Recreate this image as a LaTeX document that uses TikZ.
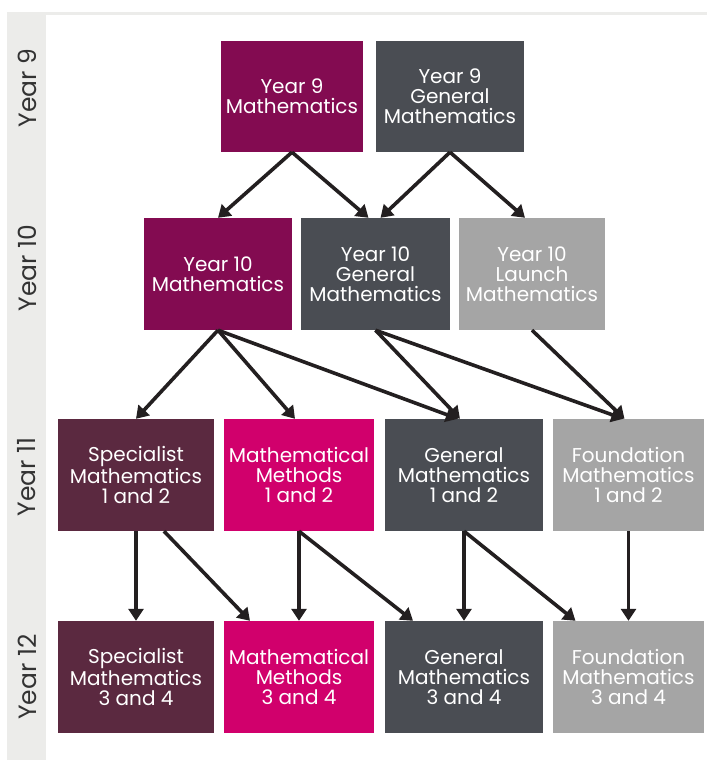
\documentclass[tikz,border=0pt]{standalone}
\usepackage{fontspec}
\setmainfont{Poppins}
\usetikzlibrary{arrows.meta}
\definecolor{cpurple}{HTML}{830B51}
\definecolor{cdark}{HTML}{4A4D53}
\definecolor{clight}{HTML}{A5A5A5}
\definecolor{cmaroon}{HTML}{5B2940}
\definecolor{cmagenta}{HTML}{D1006C}
\definecolor{cstrip}{HTML}{ECECEA}
\definecolor{carrow}{HTML}{231F20}
\tikzset{
  box/.style={draw=none, text=white, align=center, inner sep=0pt,
    font=\fontsize{20}{20}\selectfont, minimum height=112pt},
  yearlbl/.style={rotate=90, text=black!80, font=\fontsize{25}{26}\selectfont, inner sep=0pt},
  conn/.style={draw=carrow, line width=3.6pt, -{Triangle[width=15pt,length=12pt]}}
}
\begin{document}
\begin{tikzpicture}[x=1pt,y=-1pt]
\useasboundingbox (0,0) rectangle (707,760);
\fill[white] (0,0) rectangle (707,760);
% strip and top line
\fill[cstrip] (7,12) rectangle (707,15);
\fill[cstrip] (7,12) rectangle (46,760);
\node[yearlbl] (l9) at (27,88) {Year 9};
\node[yearlbl] (l10) at (27,268) {Year 10};
\node[yearlbl] (l11) at (27,477) {Year 11};
\node[yearlbl] (l12) at (27,677) {Year 12};
% Year 9
\node[box, fill=cpurple, minimum width=142pt, minimum height=111pt] (y9m) at (292,96.5) {Year 9\\Mathematics};
\node[box, fill=cdark, minimum width=148pt, minimum height=111pt] (y9g) at (450,96.5) {Year 9\\General\\Mathematics};
% Year 10
\node[box, fill=cpurple, minimum width=148pt] (y10m) at (218,274) {Year 10\\Mathematics};
\node[box, fill=cdark, minimum width=149pt] (y10g) at (375.5,274) {Year 10\\General\\Mathematics};
\node[box, fill=clight, minimum width=146pt] (y10l) at (532,274) {Year 10\\Launch\\Mathematics};
% Year 11
\node[box, fill=cmaroon, minimum width=156pt] (s11) at (136,475) {Specialist\\Mathematics\\1 and 2};
\node[box, fill=cmagenta, minimum width=150pt] (m11) at (299,475) {Mathematical\\Methods\\1 and 2};
\node[box, fill=cdark, minimum width=158pt] (g11) at (464,475) {General\\Mathematics\\1 and 2};
\node[box, fill=clight, minimum width=151pt] (f11) at (628.5,475) {Foundation\\Mathematics\\1 and 2};
% Year 12
\node[box, fill=cmaroon, minimum width=156pt] (s12) at (136,677) {Specialist\\Mathematics\\3 and 4};
\node[box, fill=cmagenta, minimum width=150pt] (m12) at (299,677) {Mathematical\\Methods\\3 and 4};
\node[box, fill=cdark, minimum width=158pt] (g12) at (464,677) {General\\Mathematics\\3 and 4};
\node[box, fill=clight, minimum width=151pt] (f12) at (628.5,677) {Foundation\\Mathematics\\3 and 4};
% connectors Year 9 -> 10
\draw[conn] (y9m.south) -- (y10m.north);
\draw[conn] (y9m.south) -- ([xshift=-7pt]y10g.north);
\draw[conn] (y9g.south) -- ([xshift=5pt]y10g.north);
\draw[conn] (y9g.south) -- ([xshift=-7pt]y10l.north);
% Year 10 -> 11
\draw[conn] (y10m.south) -- (s11.north);
\draw[conn] (y10m.south) -- ([xshift=-4pt]m11.north);
\draw[conn] (y10m.south) -- ([xshift=-6pt]g11.north);
\draw[conn] (y10g.south) -- ([xshift=-4pt]g11.north);
\draw[conn] (y10g.south) -- ([xshift=-5pt]f11.north);
\draw[conn] (y10l.south) -- ([xshift=-4pt]f11.north);
% Year 11 -> 12
\draw[conn] (s11.south) -- (s12.north);
\draw[conn] ([xshift=28pt]s11.south) -- ([xshift=-49pt]m12.north);
\draw[conn] (m11.south) -- (m12.north);
\draw[conn] (m11.south) -- ([xshift=-51pt]g12.north);
\draw[conn] (g11.south) -- (g12.north);
\draw[conn] (g11.south) -- ([xshift=-53pt]f12.north);
\draw[conn] (f11.south) -- (f12.north);
\end{tikzpicture}
\end{document}
